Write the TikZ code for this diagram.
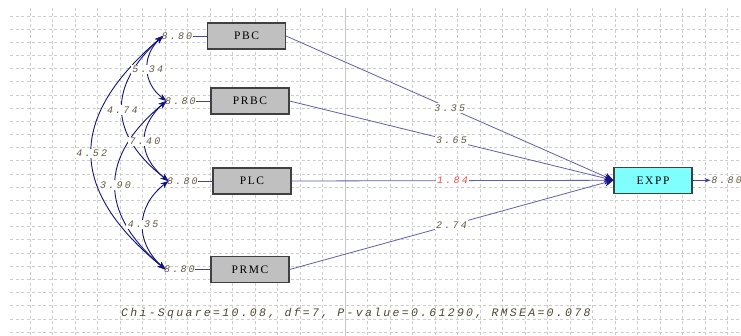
\documentclass[tikz,border=0pt]{standalone}
\usepackage{fontspec}
\setmainfont{Liberation Serif}
\newfontfamily\lblfont[LetterSpace=22]{Liberation Mono}
\newfontfamily\statfont[LetterSpace=20]{Liberation Mono}
\newfontfamily\boxfont[LetterSpace=14]{Liberation Serif}
\usetikzlibrary{arrows.meta}
\definecolor{boxgray}{RGB}{192,192,192}
\definecolor{boxedge}{RGB}{64,64,64}
\definecolor{cyanfill}{RGB}{128,255,255}
\definecolor{navy}{RGB}{20,20,130}
\definecolor{pathblue}{RGB}{95,95,180}
\definecolor{numcol}{RGB}{100,88,65}
\definecolor{redcol}{RGB}{255,70,70}
\definecolor{gridcol}{RGB}{205,205,205}
\definecolor{gridmid}{RGB}{200,200,200}
\tikzset{
  gridline/.style={draw=gridcol, line width=0.8pt, dash pattern=on 3pt off 2.5pt},
  varbox/.style={draw=boxedge, fill=boxgray, line width=1.1pt, minimum width=78pt,
    minimum height=26pt, inner sep=0pt, font=\boxfont\fontsize{11.5}{13}\selectfont},
  depbox/.style={varbox, fill=cyanfill},
  errlbl/.style={inner sep=0.5pt, text=numcol, font=\lblfont\itshape\fontsize{10}{11}\selectfont},
  numlbl/.style={errlbl, fill=white, inner sep=1.5pt},
  errline/.style={draw=navy!80!white, line width=0.9pt},
  reg/.style={draw=pathblue, line width=0.8pt, arrows={-{Stealth[length=9pt,width=8pt,color=navy]}}},
  cov/.style={draw=navy, line width=0.9pt, {Stealth[length=8pt,width=6pt]}-{Stealth[length=8pt,width=6pt]}},
  covlbl/.style={numlbl, pos=0.5}
}
\begin{document}
\begin{tikzpicture}[x=1pt,y=-1pt]
\useasboundingbox (0,0) rectangle (741,336);
\fill[white] (0,0) rectangle (741,336);
% grid
\foreach \k in {0,...,24} \draw[gridline] (10,{16+13.17*\k}) -- (741,{16+13.17*\k});
\foreach \k in {0,...,31} \draw[gridline] ({30+22.5*\k},8) -- ({30+22.5*\k},336);
\draw[draw=gridmid, line width=0.9pt] (345,8) -- (345,336);

% boxes
\node[varbox] (PBC)  at (246.5,36)  {PBC};
\node[varbox] (PRBC) at (250,101)   {PRBC};
\node[varbox] (PLC)  at (252,181)   {PLC};
\node[varbox] (PRMC) at (250,269.5) {PRMC};
\node[depbox] (EXPP) at (653,180.3) {EXPP};

% error labels
\node[errlbl, anchor=east] (e1) at ([xshift=-14pt]PBC.west)  {8.80};
\node[errlbl, anchor=east] (e2) at ([xshift=-14pt]PRBC.west) {8.80};
\node[errlbl, anchor=east] (e3) at ([xshift=-14pt]PLC.west)  {8.80};
\node[errlbl, anchor=east] (e4) at ([xshift=-15pt]PRMC.west) {8.80};
\node[errlbl, anchor=west] (e5) at ([xshift=18pt]EXPP.east)  {8.80};

\draw[errline] (e1) -- (PBC);
\draw[errline] (e2) -- (PRBC);
\draw[errline] (e3) -- (PLC);
\draw[errline] (e4) -- (PRMC);
\draw[errline, -{Stealth[length=6pt,width=4.5pt]}] (EXPP) -- (e5);

% covariance anchor points
\coordinate (c1) at ([xshift=2pt]e1.west);
\coordinate (c2) at ([xshift=2pt]e2.west);
\coordinate (c3) at ([xshift=2pt]e3.west);
\coordinate (c4) at ([xshift=2pt]e4.west);

% regressions
\draw[reg] (PBC.east)  -- node[numlbl]{3.35} (EXPP.west);
\draw[reg] (PRBC.east) -- node[numlbl]{3.65} (EXPP.west);
\draw[reg] (PLC.east)  -- node[numlbl, text=redcol]{1.84} (EXPP.west);
\draw[reg] (PRMC.east) -- node[numlbl]{2.74} (EXPP.west);

% covariances
\draw[cov] (c1) to[bend right=50, looseness=1.38] node[covlbl]{4.52} (c4);
\draw[cov] (c1) to[bend right=50, looseness=1.33] node[covlbl]{4.74} (c3);
\draw[cov] (c2) to[bend right=50, looseness=1.33] node[covlbl]{3.90} (c4);
\draw[cov] (c1) to[bend right=50, looseness=1.16] node[covlbl]{5.34} (c2);
\draw[cov] (c2) to[bend right=50, looseness=1.25] node[covlbl]{7.40} (c3);
\draw[cov] (c3) to[bend right=50, looseness=1.2]  node[covlbl]{4.35} (c4);

% statistics
\node[anchor=west, inner sep=0pt, text=numcol!80!black, font=\statfont\itshape\fontsize{11.5}{13}\selectfont] (stats) at (121,314)
  {Chi-Square=10.08, df=7, P-value=0.61290, RMSEA=0.078};
\end{tikzpicture}
\end{document}
